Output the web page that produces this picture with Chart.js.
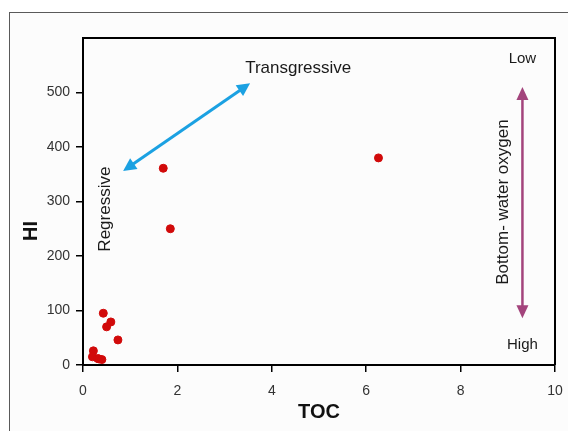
<!DOCTYPE html>
<html>
<head>
<meta charset="utf-8">
<script src="https://cdn.jsdelivr.net/npm/chart.js@4.4.1/dist/chart.umd.min.js"></script>
<style>
  html, body { margin: 0; padding: 0; background: #ffffff; }
  #wrap { position: relative; width: 568px; height: 431px; overflow: hidden; }
  #frame { position: absolute; left: 9px; top: 12px; width: 600px; height: 460px;
           border: 1px solid #5a5a5a; background: #fcfcfc; }
  #holder { position: absolute; left: 0; top: 0; width: 568px; height: 431px; }
</style>
</head>
<body>
<div id="wrap">
  <div id="frame"></div>
  <div id="holder"><canvas id="c"></canvas></div>
</div>
<script>
// ---- data ----
const tocValues = [1.70, 1.85, 6.26, 0.43, 0.59, 0.50, 0.74, 0.22, 0.20, 0.31, 0.34, 0.40];
const hiValues  = [361, 250, 380, 95, 79, 70, 46, 26, 15, 12, 11, 10];
const xTickValues = [0, 2, 4, 6, 8, 10];
const yTickValues = [0, 100, 200, 300, 400, 500];
// arrows (data units: [x1, y1, x2, y2])
const transgressiveArrow = [0.85, 356, 3.54, 517];
const oxygenArrow = [9.31, 510, 9.31, 86];

const FONT = "'Liberation Sans', Arial, sans-serif";

function drawArrow(ctx, x1, y1, x2, y2, color, lw, hl, hw) {
  const ang = Math.atan2(y2 - y1, x2 - x1);
  const ux = Math.cos(ang), uy = Math.sin(ang);
  ctx.save();
  ctx.strokeStyle = color; ctx.fillStyle = color; ctx.lineWidth = lw;
  ctx.beginPath();
  ctx.moveTo(x1 + ux * hl * 0.8, y1 + uy * hl * 0.8);
  ctx.lineTo(x2 - ux * hl * 0.8, y2 - uy * hl * 0.8);
  ctx.stroke();
  function head(tx, ty, dx, dy) {
    const bx = tx - dx * hl, by = ty - dy * hl;
    ctx.beginPath();
    ctx.moveTo(tx, ty);
    ctx.lineTo(bx - dy * hw, by + dx * hw);
    ctx.lineTo(bx + dy * hw, by - dx * hw);
    ctx.closePath();
    ctx.fill();
  }
  head(x2, y2, ux, uy);
  head(x1, y1, -ux, -uy);
  ctx.restore();
}

const annotations = {
  id: 'annotations',
  afterDraw(chart) {
    const ctx = chart.ctx, a = chart.chartArea;
    const xs = chart.scales.x, ys = chart.scales.y;
    ctx.save();
    ctx.strokeStyle = '#000'; ctx.lineWidth = 2;
    ctx.beginPath();
    ctx.moveTo(a.left, a.top); ctx.lineTo(a.right, a.top); ctx.lineTo(a.right, a.bottom);
    ctx.stroke();
    ctx.restore();

    const px = v => xs.getPixelForValue(v), py = v => ys.getPixelForValue(v);
    drawArrow(ctx, px(transgressiveArrow[0]), py(transgressiveArrow[1]),
              px(transgressiveArrow[2]), py(transgressiveArrow[3]), '#1ba1e2', 3, 13, 6.5);
    drawArrow(ctx, px(oxygenArrow[0]), py(oxygenArrow[1]),
              px(oxygenArrow[2]), py(oxygenArrow[3]), '#a3447c', 2.5, 13, 6);

    ctx.save();
    ctx.fillStyle = '#1a1a1a';
    ctx.textAlign = 'center'; ctx.textBaseline = 'middle';
    ctx.font = '17px ' + FONT;
    ctx.fillText('Transgressive', px(4.56), py(545));
    ctx.font = '15px ' + FONT;
    ctx.fillText('Low', px(9.31), py(561));
    ctx.fillText('High', px(9.31), py(37));
    ctx.font = '17px ' + FONT;
    function vtext(t, x, y) {
      ctx.save(); ctx.translate(x, y); ctx.rotate(-Math.PI / 2); ctx.fillText(t, 0, 0); ctx.restore();
    }
    vtext('Regressive', px(0.47), py(286));
    vtext('Bottom- water oxygen', px(8.91), py(299));
    ctx.font = 'bold 20px ' + FONT;
    ctx.fillStyle = '#111';
    vtext('HI', 31, 231);
    ctx.restore();
  }
};

new Chart(document.getElementById('c'), {
  type: 'scatter',
  data: {
    datasets: [{
      data: tocValues.map((v, i) => ({ x: v, y: hiValues[i] })),
      backgroundColor: '#d10a0a',
      borderColor: '#d10a0a',
      pointRadius: 4,
      pointHoverRadius: 4
    }]
  },
  options: {
    responsive: true,
    maintainAspectRatio: false,
    animation: false,
    events: [],
    layout: { padding: { top: 38, right: 13, left: 0, bottom: 0 } },
    plugins: { legend: { display: false }, tooltip: { enabled: false } },
    scales: {
      x: {
        type: 'linear', min: 0, max: 10,
        afterBuildTicks: s => { s.ticks = xTickValues.map(v => ({ value: v })); },
        afterFit: s => { s.height = 66; s.paddingLeft = 0; s.paddingRight = 0; },
        grid: { drawOnChartArea: false, drawTicks: true, tickLength: 7, color: '#000', lineWidth: 1.5 },
        border: { display: true, color: '#000', width: 2 },
        ticks: { color: '#333', font: { family: FONT, size: 14 }, padding: 11, maxRotation: 0 },
        title: { display: true, text: 'TOC', color: '#111', font: { family: FONT, size: 20, weight: 'bold' },
                 padding: { top: 0, bottom: 7 } }
      },
      y: {
        type: 'linear', min: 0, max: 600,
        afterBuildTicks: s => { s.ticks = yTickValues.map(v => ({ value: v })); },
        afterFit: s => { s.width = 83; s.paddingTop = 0; s.paddingBottom = 0; },
        grid: { drawOnChartArea: false, drawTicks: true, tickLength: 7, color: '#000', lineWidth: 1.5 },
        border: { display: true, color: '#000', width: 2 },
        ticks: { color: '#333', font: { family: FONT, size: 14 }, padding: 6 }
      }
    }
  },
  plugins: [annotations]
});
</script>
</body>
</html>
